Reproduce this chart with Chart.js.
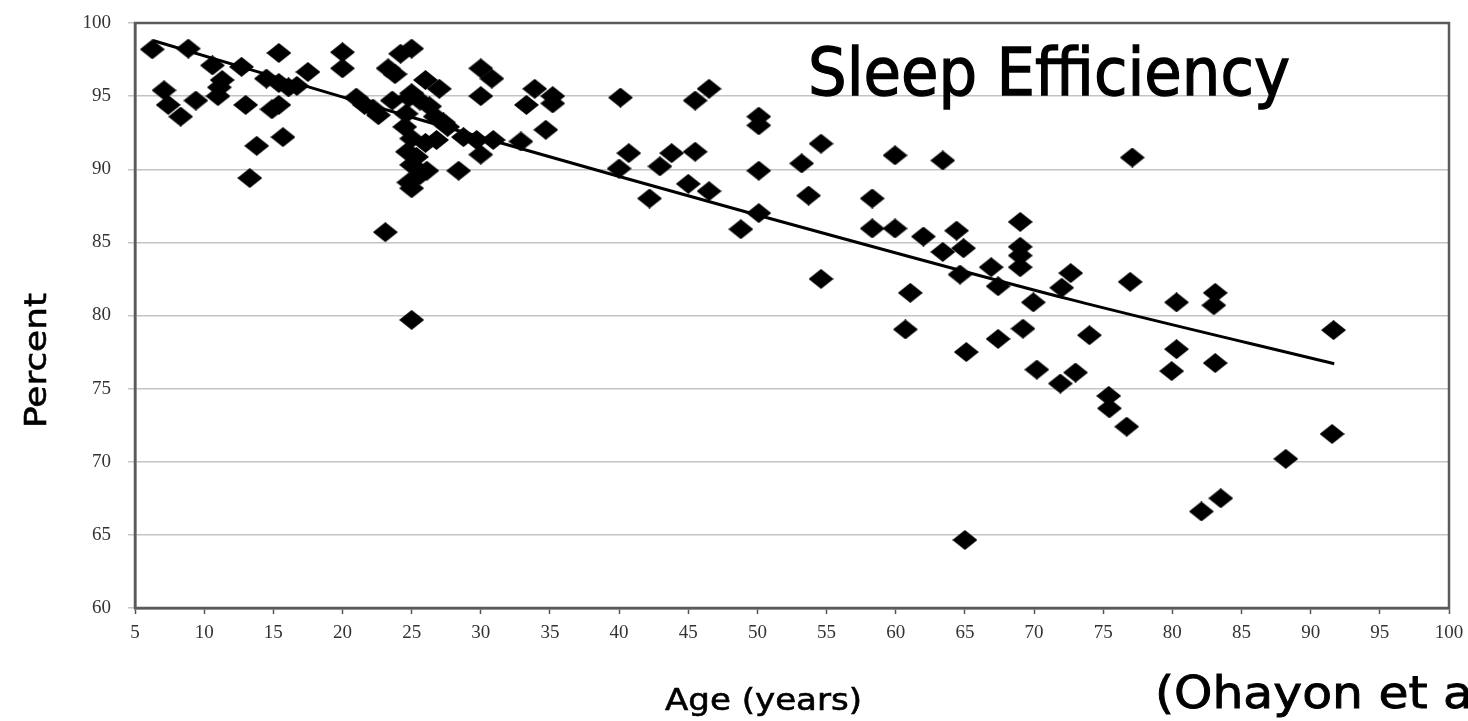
<!DOCTYPE html>
<html>
<head>
<meta charset="utf-8">
<title>Sleep Efficiency</title>
<script src="https://cdn.jsdelivr.net/npm/chart.js@4/dist/chart.umd.min.js"></script>
<style>
  html, body { margin: 0; padding: 0; background: #fff; }
  canvas { display: block; }
</style>
</head>
<body>
<canvas id="grafik" width="1468" height="721"></canvas>
<script>
// umur (tahun) dan efisiensi tidur (%)
var ages = [
    6.25, 7.1, 7.4, 8.3, 8.85, 9.4, 10.6, 11.0, 11.1, 11.3,
    12.7, 13.0, 13.3, 13.8, 14.5, 14.9, 15.4, 15.4, 15.4, 15.7,
    16.1, 16.7, 17.5, 20.0, 20.0, 21.0, 21.6, 22.2, 22.6, 23.1,
    23.3, 23.6, 23.8, 24.2, 24.5, 24.6, 24.7, 24.8, 24.8, 25.0,
    25.0, 25.0, 25.0, 25.0, 25.0, 25.35, 25.6, 25.6, 26.0, 26.0,
    26.1, 26.3, 26.7, 26.8, 27.0, 27.3, 27.6, 28.4, 28.75, 29.7,
    30.0, 30.0, 30.0, 30.8, 30.9, 32.9, 33.3, 33.9, 34.7, 35.2,
    35.2, 40.0, 40.1, 40.7, 42.2, 42.95, 43.8, 45.0, 45.5, 45.5,
    46.5, 46.5, 48.8, 50.1, 50.1, 50.1, 50.1, 53.2, 53.7, 54.6,
    54.6, 58.3, 58.3, 59.95, 59.95, 60.7, 61.05, 62.0, 63.4, 63.4,
    64.4, 64.65, 64.9, 65.0, 65.1, 66.9, 67.4, 67.4, 69.0, 69.0,
    69.0, 69.0, 69.2, 69.95, 70.2, 71.9, 72.0, 72.65, 73.0, 74.0,
    75.4, 75.45, 76.7, 76.95, 77.1, 79.95, 80.3, 80.3, 82.1, 83.0,
    83.1, 83.1, 83.5, 88.2, 91.55, 91.65
];
var efficiency = [
    98.2, 95.4, 94.4, 93.6, 98.25, 94.7, 97.1, 95.0, 95.6, 96.1,
    97.0, 94.4, 89.4, 91.6, 96.2, 94.1, 97.95, 95.9, 94.4, 92.2,
    95.6, 95.7, 96.65, 98.0, 96.9, 94.9, 94.4, 94.15, 93.7, 85.7,
    96.9, 94.7, 96.5, 97.9, 92.9, 93.8, 91.2, 94.9, 89.1, 98.25,
    95.2, 92.1, 90.3, 88.7, 79.7, 90.85, 94.7, 89.6, 96.1, 91.8,
    89.9, 94.3, 93.6, 92.0, 95.5, 93.2, 92.9, 89.9, 92.2, 92.0,
    96.9, 95.0, 91.0, 96.2, 92.0, 91.9, 94.4, 95.5, 92.7, 95.0,
    94.5, 90.05, 94.9, 91.1, 88.0, 90.2, 91.1, 89.0, 94.7, 91.2,
    95.5, 88.5, 85.9, 93.6, 93.0, 89.9, 87.0, 90.4, 88.2, 91.75,
    82.5, 88.0, 85.95, 90.95, 85.95, 79.05, 81.55, 85.4, 90.6, 84.35,
    85.8, 82.8, 84.6, 64.65, 77.5, 83.3, 82.0, 78.4, 86.4, 84.7,
    84.1, 83.3, 79.1, 80.9, 76.3, 75.35, 81.9, 82.9, 76.1, 78.65,
    74.5, 73.65, 72.4, 82.3, 90.8, 76.2, 80.9, 77.7, 66.6, 80.7,
    81.55, 76.75, 67.5, 70.2, 71.9, 79.0
];

// garis tren
var trendAges = [6.3, 20.4, 31.6, 49.2, 72.6, 91.7];
var trendValues = [98.8, 94.83, 91.76, 87.08, 81.1, 76.7];

// label sumbu
var xTickValues = [5, 10, 15, 20, 25, 30, 35, 40, 45, 50, 55, 60, 65, 70, 75, 80, 85, 90, 95, 100];
var yTickValues = [60, 65, 70, 75, 80, 85, 90, 95, 100];

// penanda belah ketupat (sedikit lebih lebar dari tingginya)
var diamond = document.createElement('canvas');
diamond.width = 25;
diamond.height = 20;
var dctx = diamond.getContext('2d');
dctx.fillStyle = '#000';
dctx.beginPath();
dctx.moveTo(12.5, 0);
dctx.lineTo(25, 10);
dctx.lineTo(12.5, 20);
dctx.lineTo(0, 10);
dctx.closePath();
dctx.fill();

// teks dengan lebar yang disesuaikan
function drawFitted(ctx, text, fitPart, x, y, size, width, rotate) {
    ctx.save();
    ctx.font = size + 'px "DejaVu Sans"';
    var sx = width / ctx.measureText(fitPart).width;
    ctx.translate(x, y);
    if (rotate) ctx.rotate(-Math.PI / 2);
    ctx.scale(sx, 1);
    ctx.fillStyle = '#000';
    ctx.strokeStyle = '#000';
    ctx.lineWidth = size / 50;
    ctx.textAlign = 'left';
    ctx.textBaseline = 'alphabetic';
    ctx.fillText(text, 0, 0);
    ctx.strokeText(text, 0, 0);
    ctx.restore();
}

var frame = {
    id: 'frame',
    beforeDatasetsDraw: function (chart) {
        var a = chart.chartArea;
        var ctx = chart.ctx;
        ctx.save();
        ctx.strokeStyle = '#5a5a5a';
        ctx.lineWidth = 2.5;
        ctx.strokeRect(a.left, a.top, a.right - a.left, a.bottom - a.top);
        ctx.restore();
    },
    afterDraw: function (chart) {
        var ctx = chart.ctx;
        drawFitted(ctx, 'Sleep Efficiency', 'Sleep Efficiency', 808, 95, 66, 482, false);
        drawFitted(ctx, 'Age (years)', 'Age (years)', 665, 710, 30, 197, false);
        drawFitted(ctx, '(Ohayon et al., 2004)', '(Ohayon et a', 1155, 708, 45, 318, false);
        drawFitted(ctx, 'Percent', 'Percent', 46, 428, 31, 135, true);
    }
};

var canvas = document.getElementById('grafik');

var config = {
    type: 'scatter',
    data: {
        datasets: [{
            label: 'Sleep Efficiency',
            data: ages.map(function (a, i) { return { x: a, y: efficiency[i] }; }),
            pointStyle: diamond,
            pointRadius: 10,
            backgroundColor: '#000',
            order: 2
        }, {
            label: 'Trend',
            type: 'line',
            data: trendAges.map(function (a, i) { return { x: a, y: trendValues[i] }; }),
            borderColor: '#000',
            borderWidth: 3,
            pointRadius: 0,
            tension: 0.3,
            fill: false,
            order: 1
        }]
    },
    options: {
        responsive: false,
        animation: false,
        layout: { padding: { top: 23, right: 19, left: 0, bottom: 0 } },
        plugins: {
            legend: { display: false },
            tooltip: { enabled: false }
        },
        scales: {
            x: {
                type: 'linear',
                min: 5,
                max: 100,
                afterBuildTicks: function (scale) {
                    scale.ticks = xTickValues.map(function (v) { return { value: v }; });
                },
                afterFit: function (scale) {
                    scale.height = 113;
                    scale.paddingLeft = 0;
                    scale.paddingRight = 0;
                },
                grid: { drawOnChartArea: false, tickLength: 6, tickColor: '#555', tickWidth: 1.5 },
                border: { color: '#555', width: 2.5 },
                ticks: {
                    padding: 8,
                    maxRotation: 0,
                    autoSkip: false,
                    color: '#333',
                    font: { family: '"Liberation Serif"', size: 19 }
                }
            },
            y: {
                min: 60,
                max: 100,
                afterBuildTicks: function (scale) {
                    scale.ticks = yTickValues.map(function (v) { return { value: v }; });
                },
                afterFit: function (scale) {
                    scale.width = 135;
                    scale.paddingTop = 0;
                    scale.paddingBottom = 0;
                },
                grid: { color: '#c4c4c4', lineWidth: 1.5, tickLength: 7 },
                border: { color: '#555', width: 2.5 },
                ticks: {
                    padding: 17,
                    color: '#333',
                    font: { family: '"Liberation Serif"', size: 19 }
                }
            }
        }
    },
    plugins: [frame]
};

var grafik = new Chart(canvas, config);
</script>
</body>
</html>
